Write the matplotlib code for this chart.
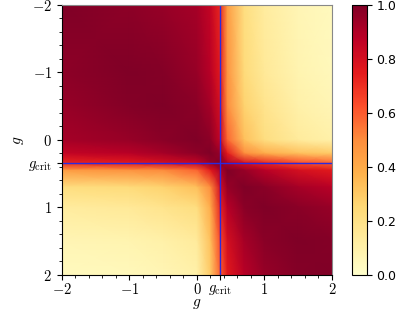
import numpy as np
import matplotlib
matplotlib.use('Agg')
import matplotlib.pyplot as plt
from matplotlib.ticker import MultipleLocator

plt.rcParams['mathtext.fontset'] = 'cm'

# Grid nodes (same for both axes) and g_crit
g_crit = 0.34
g_nodes = [-2.0, -1.0, -0.5, 0.0, 0.2, g_crit, 0.45, 0.7, 1.0, 1.5, 2.0]

# Values: rows = y node, columns = x node
overlap = [
    [1.00, 0.97, 0.95, 0.92, 0.85, 0.72, 0.45, 0.22, 0.13, 0.07, 0.04],
    [0.97, 1.00, 0.99, 0.95, 0.88, 0.75, 0.48, 0.24, 0.15, 0.08, 0.05],
    [0.95, 0.99, 1.00, 0.98, 0.92, 0.80, 0.50, 0.27, 0.18, 0.10, 0.07],
    [0.92, 0.95, 0.98, 1.00, 0.97, 0.85, 0.58, 0.33, 0.22, 0.14, 0.10],
    [0.85, 0.88, 0.92, 0.97, 1.00, 0.95, 0.75, 0.50, 0.40, 0.33, 0.30],
    [0.72, 0.75, 0.80, 0.85, 0.95, 1.00, 0.90, 0.80, 0.72, 0.63, 0.58],
    [0.45, 0.48, 0.50, 0.58, 0.75, 0.90, 1.00, 0.95, 0.88, 0.80, 0.75],
    [0.22, 0.24, 0.27, 0.33, 0.50, 0.80, 0.95, 1.00, 0.98, 0.92, 0.88],
    [0.13, 0.15, 0.18, 0.22, 0.40, 0.72, 0.88, 0.98, 1.00, 0.98, 0.95],
    [0.07, 0.08, 0.10, 0.14, 0.33, 0.63, 0.80, 0.92, 0.98, 1.00, 0.99],
    [0.04, 0.05, 0.07, 0.10, 0.30, 0.58, 0.75, 0.88, 0.95, 0.99, 1.00],
]

tick_vals = [-2, -1, 0, g_crit, 1, 2]
tick_labels = ['$-2$', '$-1$', '$0$', r'$g_{\rm crit}$', '$1$', '$2$']

fig = plt.figure(figsize=(4.15, 3.11), dpi=100)
ax = fig.add_axes([0.149, 0.116, 0.651, 0.868])
cax = fig.add_axes([0.849, 0.116, 0.035, 0.868])

X, Y = np.meshgrid(g_nodes, g_nodes)
mesh = ax.pcolormesh(X, Y, np.array(overlap), cmap='YlOrRd', vmin=0, vmax=1,
                     shading='gouraud', rasterized=True)
ax.axvline(g_crit, color='#2a2ae0', lw=1.0)
ax.axhline(g_crit, color='#2a2ae0', lw=1.0)

ax.set_xlim(-2, 2)
ax.set_ylim(2, -2)
ax.set_xticks(tick_vals)
ax.set_xticklabels(tick_labels, fontsize=10.5)
ax.set_yticks(tick_vals)
ax.set_yticklabels(tick_labels, fontsize=10.5)
ax.xaxis.set_minor_locator(MultipleLocator(0.2))
ax.yaxis.set_minor_locator(MultipleLocator(0.2))
ax.tick_params(axis='x', pad=1.5)
ax.set_xlabel('$g$', fontsize=11, va='center')
ax.xaxis.set_label_coords(0.5, -0.105)
ax.set_ylabel('$g$', fontsize=11, labelpad=2)
ax.spines['top'].set_color('#888888')
ax.spines['right'].set_color('#888888')

cb = fig.colorbar(mesh, cax=cax)
cb.set_ticks([0.0, 0.2, 0.4, 0.6, 0.8, 1.0])
cb.ax.tick_params(labelsize=9)
cb.outline.set_linewidth(0.8)

fig.savefig('out.png', dpi=100)
